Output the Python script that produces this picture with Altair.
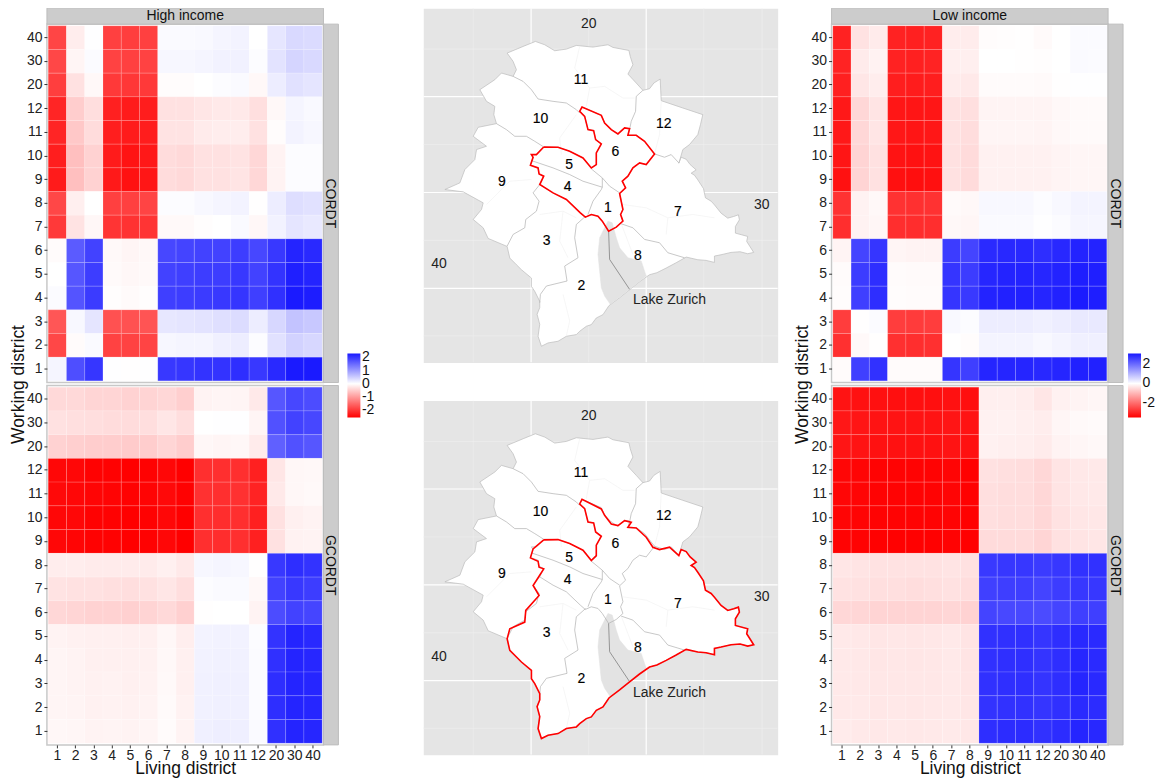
import altair as alt
import pandas as pd

FONT = "Liberation Sans"
DISTRICTS = ["1","2","3","4","5","6","7","8","9","10","11","12","20","30","40"]
ROWS = ["40","30","20","12","11","10","9","8","7","6","5","4","3","2","1"]

HIGH_CORDT = [
 [-1.87,-.18,.01,-1.92,-1.95,-1.92,.05,.05,.06,.1,.12,0,.25,.38,.36],
 [-1.85,-.1,.04,-1.9,-1.92,-1.9,.08,.08,.1,.13,.14,.03,.28,.42,.38],
 [-1.95,-.3,-.07,-2.0,-2.02,-2.0,-.03,-.03,0,.03,.05,-.07,.18,.3,.26],
 [-2.2,-.5,-.33,-2.25,-2.3,-2.28,-.3,-.3,-.25,-.22,-.22,-.32,-.07,.1,.06],
 [-2.2,-.55,-.35,-2.27,-2.3,-2.28,-.28,-.28,-.2,-.18,-.18,-.3,-.03,.12,.08],
 [-2.27,-.65,-.45,-2.3,-2.38,-2.33,-.35,-.38,-.3,-.3,-.28,-.4,-.12,.03,.03],
 [-2.3,-.65,-.45,-2.32,-2.4,-2.35,-.35,-.38,-.3,-.3,-.27,-.4,-.12,.03,.03],
 [-1.85,-.16,0,-1.92,-1.92,-1.88,.03,.03,.07,.1,.12,-.01,.18,.33,.3],
 [-2.0,-.28,-.08,-2.05,-2.07,-2.05,-.06,-.06,-.02,0,.05,-.08,.13,.26,.22],
 [-.04,1.65,1.9,-.06,-.1,-.07,1.85,1.88,1.9,1.9,1.95,1.85,2.0,2.2,2.15],
 [0,1.7,1.95,-.05,-.08,-.06,1.9,1.93,1.95,1.95,2.0,1.9,2.05,2.25,2.2],
 [.04,1.72,1.97,-.02,-.05,-.02,1.93,1.95,1.97,2.0,2.03,1.93,2.08,2.3,2.27],
 [-1.7,.07,.26,-1.75,-1.75,-1.72,.24,.26,.28,.32,.35,.18,.4,.6,.55],
 [-1.85,-.04,.05,-1.9,-1.9,-1.88,.08,.1,.1,.15,.18,.03,.3,.45,.4],
 [.1,1.78,2.02,.01,-.01,.01,2.0,2.02,2.05,2.05,2.1,2.0,2.15,2.3,2.3],
]
HIGH_GCORDT = [
 [-.38,-.38,-.42,-.42,-.45,-.43,-.4,-.48,-.12,-.1,-.1,-.22,1.7,1.85,1.8],
 [-.3,-.32,-.33,-.35,-.35,-.33,-.25,-.33,0,.01,.01,-.1,1.75,1.9,1.85],
 [-.45,-.48,-.5,-.5,-.52,-.5,-.42,-.5,-.08,-.1,-.08,-.2,1.6,1.75,1.7],
 [-2.5,-2.5,-2.55,-2.55,-2.57,-2.55,-2.5,-2.57,-2.1,-2.1,-2.1,-2.25,-.25,-.08,-.07],
 [-2.48,-2.5,-2.52,-2.53,-2.55,-2.53,-2.48,-2.55,-2.08,-2.1,-2.08,-2.22,-.22,-.08,-.06],
 [-2.5,-2.5,-2.55,-2.55,-2.57,-2.55,-2.5,-2.57,-2.1,-2.12,-2.1,-2.25,-.3,-.15,-.12],
 [-2.5,-2.52,-2.55,-2.55,-2.57,-2.55,-2.5,-2.57,-2.1,-2.12,-2.1,-2.25,-.3,-.13,-.12],
 [-.18,-.18,-.2,-.2,-.2,-.2,-.15,-.22,.08,.1,.08,-.01,2.0,2.1,2.05],
 [-.28,-.3,-.3,-.32,-.33,-.3,-.25,-.33,.03,.05,.05,-.07,1.9,2.0,1.95],
 [-.4,-.42,-.45,-.45,-.47,-.43,-.38,-.47,-.01,0,0,-.12,1.8,1.9,1.87],
 [-.12,-.14,-.15,-.15,-.16,-.15,-.08,-.17,.12,.13,.13,.03,2.05,2.2,2.15],
 [-.1,-.12,-.15,-.15,-.15,-.14,-.07,-.15,.13,.14,.14,.04,2.08,2.2,2.17],
 [-.1,-.12,-.14,-.13,-.15,-.13,-.06,-.15,.14,.15,.15,.04,2.1,2.2,2.18],
 [-.1,-.11,-.14,-.13,-.14,-.12,-.05,-.13,.14,.15,.15,.04,2.1,2.2,2.18],
 [-.08,-.09,-.12,-.11,-.12,-.1,-.04,-.12,.15,.17,.16,.05,2.08,2.2,2.18],
]
LOW_CORDT = [
 [-3.07,-.4,-.28,-3.07,-3.1,-3.07,-.25,-.27,-.04,-.03,-.02,-.07,0,.05,.05],
 [-3.05,-.28,-.18,-3.07,-3.1,-3.05,-.22,-.22,0,0,-.01,-.03,0,.07,.06],
 [-3.1,-.35,-.25,-3.13,-3.15,-3.12,-.27,-.3,-.05,-.05,-.05,-.07,-.02,.02,.02],
 [-3.2,-.55,-.38,-3.23,-3.25,-3.23,-.4,-.45,-.15,-.15,-.15,-.15,-.1,-.07,-.07],
 [-3.2,-.55,-.36,-3.22,-3.25,-3.22,-.4,-.47,-.14,-.14,-.14,-.15,-.1,-.07,-.07],
 [-3.25,-.6,-.42,-3.27,-3.3,-3.27,-.42,-.5,-.2,-.2,-.2,-.2,-.15,-.12,-.12],
 [-3.3,-.6,-.42,-3.32,-3.35,-3.32,-.42,-.5,-.2,-.2,-.2,-.2,-.15,-.12,-.12],
 [-2.85,-.18,-.1,-2.85,-2.88,-2.85,-.07,-.1,.1,.1,.1,.04,.1,.15,.15],
 [-2.9,-.18,-.12,-2.9,-2.92,-2.9,-.1,-.12,.07,.07,.07,.02,.06,.12,.12],
 [-.15,2.55,2.75,-.14,-.16,-.17,2.65,2.55,2.9,2.93,2.93,2.85,2.93,3.0,3.0],
 [-.05,2.65,2.85,-.05,-.07,-.07,2.75,2.65,2.95,3.0,3.0,2.95,3.0,3.07,3.05],
 [-.04,2.62,2.85,-.04,-.05,-.05,2.75,2.7,3.0,3.03,3.03,2.97,3.03,3.1,3.07],
 [-2.7,-.01,.05,-2.7,-2.72,-2.7,.08,.04,.25,.25,.25,.2,.25,.3,.3],
 [-2.87,-.08,-.02,-2.87,-2.9,-2.87,0,-.04,.15,.15,.15,.1,.15,.2,.2],
 [-.05,2.6,2.8,-.05,-.06,-.05,2.75,2.62,2.97,2.97,2.97,2.93,2.97,3.02,3.02],
]
LOW_GCORDT = [
 [-3.28,-3.3,-3.32,-3.33,-3.33,-3.33,-3.3,-3.33,-.22,-.22,-.25,-.35,-.2,-.15,-.13],
 [-3.22,-3.25,-3.27,-3.27,-3.28,-3.27,-3.25,-3.27,-.2,-.2,-.22,-.25,-.13,-.08,-.07],
 [-3.25,-3.27,-3.3,-3.3,-3.3,-3.3,-3.27,-3.3,-.2,-.22,-.23,-.28,-.17,-.12,-.1],
 [-3.45,-3.47,-3.5,-3.5,-3.5,-3.5,-3.47,-3.52,-.42,-.45,-.47,-.55,-.38,-.32,-.3],
 [-3.45,-3.47,-3.5,-3.5,-3.5,-3.5,-3.47,-3.52,-.45,-.47,-.47,-.55,-.38,-.32,-.3],
 [-3.47,-3.48,-3.5,-3.5,-3.5,-3.5,-3.48,-3.52,-.45,-.47,-.47,-.55,-.4,-.35,-.33],
 [-3.5,-3.5,-3.52,-3.52,-3.52,-3.52,-3.5,-3.54,-.5,-.5,-.5,-.58,-.42,-.37,-.35],
 [-.35,-.37,-.4,-.4,-.4,-.4,-.37,-.42,2.7,2.72,2.72,2.67,2.72,2.8,2.8],
 [-.4,-.42,-.45,-.45,-.47,-.45,-.42,-.47,2.6,2.63,2.63,2.55,2.65,2.72,2.72],
 [-.55,-.57,-.6,-.6,-.6,-.6,-.57,-.62,2.55,2.5,2.5,2.45,2.55,2.62,2.62],
 [-.3,-.32,-.35,-.33,-.35,-.33,-.3,-.37,2.8,2.82,2.82,2.75,2.85,2.92,2.9],
 [-.3,-.32,-.35,-.33,-.35,-.33,-.3,-.37,2.8,2.83,2.83,2.77,2.85,2.95,2.9],
 [-.3,-.32,-.34,-.33,-.34,-.33,-.3,-.36,2.8,2.83,2.83,2.77,2.85,2.97,2.92],
 [-.3,-.31,-.33,-.32,-.33,-.32,-.3,-.35,2.78,2.8,2.8,2.75,2.82,2.9,2.88],
 [-.28,-.3,-.32,-.31,-.32,-.31,-.29,-.34,2.85,2.87,2.87,2.8,2.88,2.97,2.93],
]

# Map geometry, in map units
NORTH_EDGE = [(347,120),(375,130),(405,148),(440,143),(470,132),(520,137),(565,130),(580,138),(628,147),(632,165),(640,190),(625,218),(650,245),(670,267),(690,262),(703,245),(722,233),(725,298),(790,320),(850,340),(843,370),(835,400),(810,430),(790,445)]
EAST_SOUTH_EDGE = [(778,486),(785,468),(800,474),(812,490),(830,506),(815,516),(825,522),(835,536),(852,562),(858,590),(875,600),(885,611),(905,636),(925,651),(943,646),(957,641),(960,656),(948,676),(948,696),(985,706),(982,721),(1003,754),(985,758),(962,752),(935,754),(905,761),(885,765),(885,784),(860,778),(835,776),(800,768),(770,785),(740,801),(712,815),(690,821),(660,842),(630,866),(600,890),(568,914),(550,941),(530,951),(515,971),(500,976),(480,991),(470,1001),(440,1006),(415,1021),(385,1026),(365,1036),(355,1006),(360,970),(352,940),(360,920),(360,901),(345,871),(335,856),(335,831),(305,806),(290,791),(270,771),(262,736)]
WEST_EDGE = [(205,712),(190,680),(160,655),(185,625),(190,605),(130,572),(75,565),(120,545),(135,505),(165,475),(170,445),(200,435),(160,405),(175,378),(230,367),(222,340),(225,315),(200,300),(180,265),(225,235),(245,215),(280,225),(290,205),(280,180),(262,155),(310,135),(347,120)]
LAKE = [(565,660),(578,665),(582,680),(590,710),(600,740),(625,770),(665,780),(680,825),(630,865),(572,910),(555,885),(545,860),(540,810),(535,760),(540,710),(555,680),(565,660)]
GREY_LINES = [
 [(280,225),(310,240),(335,265),(355,293),(400,300),(440,305),(470,325),(480,335)],
 [(230,367),(260,385),(285,405),(320,405),(345,420),(372,437)],
 [(335,478),(400,500),(450,520),(490,540),(548,558)],
 [(515,503),(548,530),(548,558),(545,565),(520,600),(505,640)],
 [(548,530),(570,555),(600,575)],
 [(360,550),(340,575),(358,600),(350,630),(318,655),(315,680),(280,700),(262,735)],
 [(498,645),(470,670),(465,710),(475,770),(435,795),(442,840),(380,855),(362,880),(360,905)],
 [(605,668),(640,680),(675,715),(720,725),(745,755),(795,770)],
 [(670,267),(650,285),(648,330),(635,360),(630,385)],
 [(705,458),(735,468),(755,460),(778,485)],
 [(705,458),(680,490),(660,485),(640,500),(625,525),(608,540),(618,560),(600,577),(610,625),(603,640),(610,660),(590,678),(567,690),(548,660),(535,645),(515,640),(497,648),(482,635),(440,595),(400,575),(360,550)],
 [(480,330),(495,345),(505,385),(522,388),(528,415),(545,428),(530,455),(530,490),(515,500),(490,470),(450,450),(415,438),(372,437),(350,460),(335,460),(340,468),(332,492),(355,500),(358,518),(372,525),(360,550)],
 [(480,330),(487,317),(545,342),(555,365),(575,385),(595,398),(615,380),(630,382),(625,402),(650,402),(675,420),(705,458)],
]
LAKE_LINES = [[(567,690),(570,775),(630,865)]]
FAINT_LINES = [
 [(480,135),(465,200),(510,260),(500,315)],
 [(510,260),(555,255),(610,290),(645,290)],
 [(470,340),(420,410),(425,460)],
 [(725,300),(720,400),(705,458)],
 [(610,610),(680,620),(745,650),(820,640),(885,650)],
 [(745,650),(740,700)],
 [(360,640),(430,630),(470,650)],
 [(430,630),(420,720),(445,770)],
 [(430,880),(450,960),(440,1005)],
 [(200,610),(270,540),(335,535)],
 [(605,668),(640,760)],
]
RED_TOP = [(372,437),(415,438),(450,450),(490,470),(515,500),(530,490),(530,455),(545,428),(528,415),(522,388),(505,385),(495,345),(480,330),(487,317),(545,342),(555,365),(575,385),(595,398),(615,380),(630,382),(625,402),(650,402),(675,420),(705,458),(680,490),(660,485),(640,500),(625,525),(608,540),(618,560),(600,577),(610,625),(603,640),(610,660),(590,678),(567,690),(548,660),(535,645),(515,640),(497,648),(482,635),(440,595),(400,575),(360,550),(372,525),(358,518),(355,500),(332,492),(340,468),(335,460),(350,460),(372,437)]
RED_BOTTOM_NORTH = [(372,439),(415,438),(450,450),(490,470),(515,501),(530,486),(530,455),(545,428),(528,415),(522,388),(505,385),(495,345),(480,331),(487,317),(545,346),(555,365),(575,391),(595,396),(615,381),(635,386),(625,401),(650,403),(680,431),(700,461),(720,468),(750,461)]
RED_BOTTOM_WEST = [(270,706),(315,686),(318,651),(358,606),(340,576),(372,526),(358,521),(355,503),(332,493),(340,466),(372,439)]
GRID_MAJOR_X = [334, 680]
GRID_MAJOR_Y = [286, 574, 862]
GRID_MINOR_X = [160, 507, 853, 1028]
GRID_MINOR_Y = [143, 430, 718, 1005]
MAP_X = (10, 1076)
MAP_Y = (20, 1085)
DISTRICT_LABELS = [("1",565,620),("2",485,856),("3",381,719),("4",444,558),("5",448,492),("6",587,452),("7",775,632),("8",655,764),("9",246,542),("10",362,354),("11",484,237),("12",733,368)]
OUTER_LABELS = [("20",507,68),("30",1027,611),("40",57,790),("Lake Zurich",750,898)]

CITY_OUTLINE = NORTH_EDGE + EAST_SOUTH_EDGE + WEST_EDGE
RED_BOTTOM = RED_BOTTOM_NORTH + EAST_SOUTH_EDGE + RED_BOTTOM_WEST

PANEL_W = 277
one = pd.DataFrame({"a": [0]})


def long_form(matrix):
    return pd.DataFrame(
        [{"row": r, "col": c, "value": v}
         for r, vals in zip(ROWS, matrix) for c, v in zip(DISTRICTS, vals)]
    )


def heat(matrix, height, domain, top_color, legend_values=None, legend_x=0, strip_top=None,
         strip_right="", show_x=False, working=False):
    scale = alt.Scale(domain=domain, range=["#ff0000", "#ffffff", top_color], interpolate="rgb")
    if legend_values:
        legend = alt.Legend(title=None, orient="none", legendX=legend_x, legendY=330, gradientLength=64,
                            gradientThickness=13, values=legend_values, labelFontSize=14, labelFont=FONT,
                            labelColor="#111", labelOverlap=False, labelOffset=1.5, direction="vertical",
                            padding=0, labelExpr="datum.value + ''")
    else:
        legend = None
    xaxis = (alt.Axis(title="Living district", titleFontSize=17.5, titleFont=FONT, titleFontWeight="normal",
                      titleColor="#111", titlePadding=-3, labelFontSize=14, labelFont=FONT, labelColor="#222",
                      labelAngle=0, tickSize=3, tickColor="#333", domain=False, grid=False, labelPadding=1)
             if show_x else None)
    tiles = alt.Chart(long_form(matrix)).mark_rect(stroke="white", strokeWidth=0.6, strokeOpacity=0.25).encode(
        x=alt.X("col:N", sort=DISTRICTS, axis=xaxis,
                scale=alt.Scale(domain=DISTRICTS, paddingInner=0, paddingOuter=0.07)),
        y=alt.Y("row:N", sort=ROWS,
                axis=alt.Axis(title=None, labelFontSize=14, labelFont=FONT, labelColor="#222", tickSize=3,
                              tickColor="#333", domain=False, grid=False, labelPadding=2),
                scale=alt.Scale(domain=ROWS, paddingInner=0, paddingOuter=0.07)),
        color=alt.Color("value:Q", scale=scale, legend=legend),
    )
    layers = [tiles]
    strip = alt.Chart(one).mark_rect(fill="#cccccc", stroke="#bdbdbd", strokeWidth=1)
    strip_text = alt.Chart(one).mark_text(font=FONT, fontSize=14, color="#111", baseline="middle", align="center")
    layers.append(strip.encode(x=alt.value(PANEL_W), x2=alt.value(PANEL_W + 15), y=alt.value(0), y2=alt.value(height)))
    layers.append(strip_text.encode(x=alt.value(PANEL_W + 7), y=alt.value(height / 2), text=alt.value(strip_right),
                                    angle=alt.value(90)))
    if strip_top:
        layers.append(strip.encode(x=alt.value(0), x2=alt.value(PANEL_W), y=alt.value(-16), y2=alt.value(0)))
        layers.append(strip_text.encode(x=alt.value(PANEL_W / 2), y=alt.value(-8), text=alt.value(strip_top)))
    if working:
        layers.append(alt.Chart(one).mark_text(font=FONT, fontSize=17.5, color="#111", angle=270, align="center",
                                               baseline="middle").encode(
            x=alt.value(working), y=alt.value(361), text=alt.value("Working district")))
    return alt.layer(*layers).properties(width=PANEL_W, height=height,
                                         view=alt.ViewBackground(fill="white", stroke="#c8c8c8", strokeWidth=1.5))


PROJ = alt.Projection(type="identity", scale=1 / 3, translate=[-MAP_X[0] / 3, -MAP_Y[0] / 3])


def feat(kind, coords):
    return {"type": "Feature", "properties": {}, "geometry": {"type": kind, "coordinates": coords}}


def line(points):
    return feat("LineString", [list(p) for p in points])


def poly(points):
    return feat("Polygon", [[list(p) for p in points]])


def shape(features, **kw):
    return alt.Chart(alt.Data(values=features)).mark_geoshape(**kw).properties(projection=PROJ)


def map_panel(red):
    minor = [line([(x, MAP_Y[0]), (x, MAP_Y[1])]) for x in GRID_MINOR_X] + [line([(MAP_X[0], y), (MAP_X[1], y)]) for y in GRID_MINOR_Y]
    major = [line([(x, MAP_Y[0]), (x, MAP_Y[1])]) for x in GRID_MAJOR_X] + [line([(MAP_X[0], y), (MAP_X[1], y)]) for y in GRID_MAJOR_Y]
    labels = pd.DataFrame(DISTRICT_LABELS, columns=["t", "x", "y"])
    outer = pd.DataFrame(OUTER_LABELS, columns=["t", "x", "y"])
    layers = [
        shape(minor, filled=False, stroke="#f0f0f0", strokeWidth=0.6),
        shape(major, filled=False, stroke="white", strokeWidth=1.2),
        shape([poly(CITY_OUTLINE)], fill="white", stroke="#bcbcbc", strokeWidth=0.7),
        shape([poly(LAKE)], fill="#e3e3e3", stroke="#e3e3e3", strokeWidth=0.5),
        shape([line(p) for p in FAINT_LINES], filled=False, stroke="#f2f2f2", strokeWidth=0.7),
        shape([line(p) for p in GREY_LINES], filled=False, stroke="#b0b0b0", strokeWidth=0.7),
        shape([line(p) for p in LAKE_LINES], filled=False, stroke="#808080", strokeWidth=0.8),
        shape([line(red)], filled=False, stroke="#ff0000", strokeWidth=1.6),
        alt.Chart(labels).mark_text(font=FONT, fontSize=14, color="black", stroke="black", strokeWidth=0.15).encode(
            longitude="x:Q", latitude="y:Q", text="t:N").properties(projection=PROJ),
        alt.Chart(outer).mark_text(font=FONT, fontSize=14, color="#222").encode(
            longitude="x:Q", latitude="y:Q", text="t:N").properties(projection=PROJ),
    ]
    return alt.layer(*layers).properties(width=355, height=355,
                                         view=alt.ViewBackground(fill="#e5e5e5", stroke="transparent"))


def vspace(h):
    return alt.Chart(one).mark_point(opacity=0, size=0).encode(x=alt.value(0)).properties(width=1, height=h)


def hspace(w):
    return alt.Chart(one).mark_point(opacity=0, size=0).encode(x=alt.value(0)).properties(width=w, height=1)


HIGH_DOM = [-2.57, 0, 2.3]
LOW_DOM = [-3.54, 0, 3.12]
BLUE_TOP = "#1a1aff"

col1 = alt.vconcat(
    vspace(13),
    heat(HIGH_CORDT, 359, HIGH_DOM, BLUE_TOP, [2, 1, 0, -1, -2], 301, "High income", "CORDT", working=-28),
    heat(HIGH_GCORDT, 360, HIGH_DOM, BLUE_TOP, strip_right="GCORDT", show_x=True),
    spacing=3, bounds="flush",
).resolve_scale(color="independent")
col2 = alt.vconcat(map_panel(RED_TOP), map_panel(RED_BOTTOM), spacing=38, bounds="flush")
col3 = alt.vconcat(
    vspace(13),
    heat(LOW_CORDT, 359, LOW_DOM, BLUE_TOP, [2, 0, -2], 297, "Low income", "CORDT", working=-29),
    heat(LOW_GCORDT, 360, LOW_DOM, BLUE_TOP, strip_right="GCORDT", show_x=True),
    spacing=3, bounds="flush",
).resolve_scale(color="independent")

chart = alt.hconcat(col1, hspace(377), col2, hspace(409), col3, spacing=0, bounds="flush").properties(
    padding={"left": 1, "top": -2.5, "right": 0, "bottom": 0}
).resolve_scale(color="independent").configure_view(stroke="transparent")

chart.save("out.html", embed_options={"renderer": "svg", "actions": False})
